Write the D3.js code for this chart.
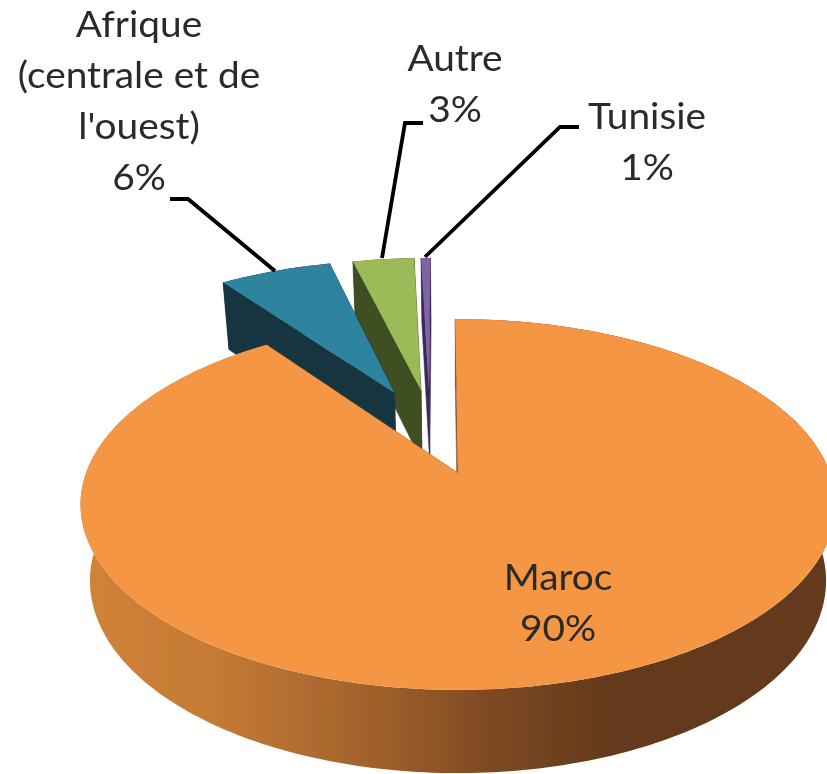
<!DOCTYPE html>
<html><head><meta charset="utf-8">
<script src="https://cdn.jsdelivr.net/npm/d3@7/dist/d3.min.js"></script>
<style>html,body{margin:0;padding:0;background:#fff}svg{display:block}text{font-family:Lato,"Noto Sans",sans-serif;font-size:37px;fill:#2a2a2a;text-anchor:middle}</style>
</head><body>
<script>
const categories = ["Maroc", "Afrique (centrale et de l'ouest)", "Autre", "Tunisie"];
const values = [90, 6, 3.3, 0.5];
const percentLabels = ["90%", "6%", "3%", "1%"];
const labelLines = [["Maroc"], ["Afrique", "(centrale et de", "l'ouest)"], ["Autre"], ["Tunisie"]];
const topColors = ["#f59645", "#2f849e", "#9bbb59", "#8064a2"];
const wallColors = ["#633a1c", "#14353f", "#414f22", "#3a2a55"];
const explodeDist = [0, 0.515, 0.51, 0.507];
const explodeDeg = [0, -21, -12.2, -9.6];
const labelX = [558, 139, 455, 647];
const labelY = [590, 37, 71, 129];
const lineGap = 51;
const leaders = [null, [[170,199],[188,199],[275,271]], [[423,123],[405,123],[382,258]], [[579,127],[560,127],[425,257]]];

const W = 827, H = 774, cx = 458, cy = 473, a = 372, b = 180, k = 0.17, h = 75;
const svg = d3.select("body").append("svg").attr("width", W).attr("height", H);
const defs = svg.append("defs");
defs.append("filter").attr("id","soft").attr("x","-5%").attr("y","-5%").attr("width","110%").attr("height","110%")
  .append("feGaussianBlur").attr("stdDeviation",0.55);
const grad = defs.append("linearGradient").attr("id","rim").attr("gradientUnits","userSpaceOnUse")
  .attr("x1",85).attr("x2",610).attr("y1",0).attr("y2",0);
[[0,"#d08338"],[0.25,"#c47a35"],[0.55,"#a0612c"],[0.8,"#7a4722"],[1,"#633a1c"]].forEach(s=>
  grad.append("stop").attr("offset",s[0]).attr("stop-color",s[1]));

const root = svg.append("g").attr("filter","url(#soft)");
const deg = Math.PI/180;
const arcs = d3.pie().sort(null).startAngle(-0.5*deg).endAngle(359.5*deg)(values);
const line = d3.line().curve(d3.curveLinear);

function project(X, Y, z) {
  const s = 1/(1 + k*Y);
  const shrink = 1 - 0.025*z;
  return [cx + a*X*s*shrink, cy - b*Y*s + z*h*Math.pow(s,0.56)];
}
function rimPoint(t, off, z){ return project(Math.sin(t)+off[0], Math.cos(t)+off[1], z); }

// far slices first, the large slice last
[3,2,1,0].forEach(i=>{
  const d = arcs[i];
  const off = [Math.sin(explodeDeg[i]*deg)*explodeDist[i], Math.cos(explodeDeg[i]*deg)*explodeDist[i]];
  const ts = d3.range(0, 1.0001, 1/Math.max(4,Math.ceil((d.endAngle-d.startAngle)/deg)))
    .map(u=>d.startAngle+u*(d.endAngle-d.startAngle));
  const apexT = project(off[0],off[1],0), apexB = project(off[0],off[1],1);
  const g = root.append("g").attr("class","slice").datum(categories[i]);
  const wallFill = i===0 ? "url(#rim)" : wallColors[i];
  // radial walls
  [d.startAngle,d.endAngle].forEach(t=>{
    g.append("path").attr("d", line([apexT, rimPoint(t,off,0), rimPoint(t,off,1), apexB])+"Z")
      .attr("fill", i===0 ? "#8a5a30" : wallColors[i]).attr("stroke", i===0 ? "#8a5a30" : wallColors[i]).attr("stroke-width",0.6);
  });
  // outer band
  const band = ts.map(t=>rimPoint(t,off,0)).concat(ts.slice().reverse().map(t=>rimPoint(t,off,1)));
  g.append("path").attr("d", line(band)+"Z").attr("fill", wallFill);
  // top face
  const top = [apexT].concat(ts.map(t=>rimPoint(t,off,0)));
  g.append("path").attr("d", line(top)+"Z").attr("fill", topColors[i]);
});

leaders.forEach(p=>{ if(p) root.append("path").attr("d",line(p)).attr("fill","none").attr("stroke","#000").attr("stroke-width",3.8); });

categories.forEach((c,i)=>{
  const lines = labelLines[i].concat([percentLabels[i]]);
  lines.forEach((t,j)=>{
    root.append("text").attr("transform",`translate(${labelX[i]},${labelY[i]+j*lineGap}) scale(1.05,1)`).text(t);
  });
});
</script>
</body></html>
